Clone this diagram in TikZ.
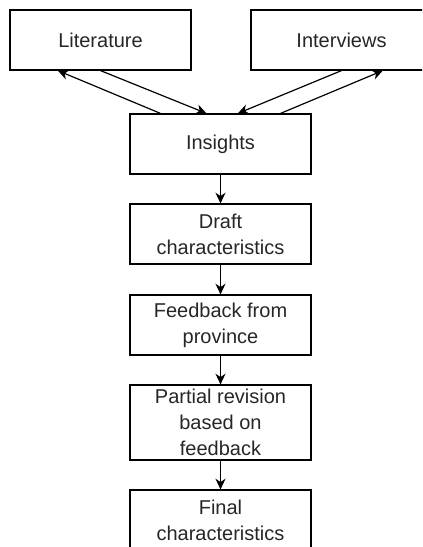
\documentclass[tikz,border=0pt]{standalone}
\usepackage{fontspec}
\setmainfont{Liberation Sans}
\usetikzlibrary{arrows.meta}

\begin{document}
\begin{tikzpicture}
            [x=0.75pt, y=-0.75pt,
            box/.style={rectangle, draw, line width=0.9pt, minimum width=135.75pt, minimum height=45pt, inner sep=0pt, align=center, text=black!85, font=\fontsize{15}{19.5}\selectfont},
            tallbox/.style={box, minimum height=56.25pt},
            flow/.style={line width=0.9pt, black, -{Stealth[length=8pt, width=7.5pt, inset=2.5pt]}}]

            \clip (0,0) rectangle (422,547);

            \node[box] (lit) at (100.5,40) {Literature};
            \node[box] (int) at (341.5,40) {Interviews};
            \node[box] (ins) at (220.5,144) {Insights};
            \node[box] (draft) at (220.5,234) {Draft\\characteristics};
            \node[box] (fb) at (220.5,325) {Feedback from\\province};
            \node[tallbox] (rev) at (220.5,422.5) {Partial revision\\based on\\feedback};
            \node[box] (final) at (220.5,520) {Final\\characteristics};

            % Back and forth between sources and insights
            \draw[flow] (lit.south) -- ([xshift=-10.5pt]ins.north);
            \draw[flow] ([xshift=-45pt]ins.north) -- ([xshift=-32pt]lit.south);
            \draw[flow] (int.south) -- ([xshift=13pt]ins.north);
            \draw[flow] ([xshift=45pt]ins.north) -- ([xshift=31pt]int.south);

            % Main chain
            \draw[flow] (ins) -- (draft);
            \draw[flow] (draft) -- (fb);
            \draw[flow] (fb) -- (rev);
            \draw[flow] (rev) -- (final);

        \end{tikzpicture}
\end{document}
